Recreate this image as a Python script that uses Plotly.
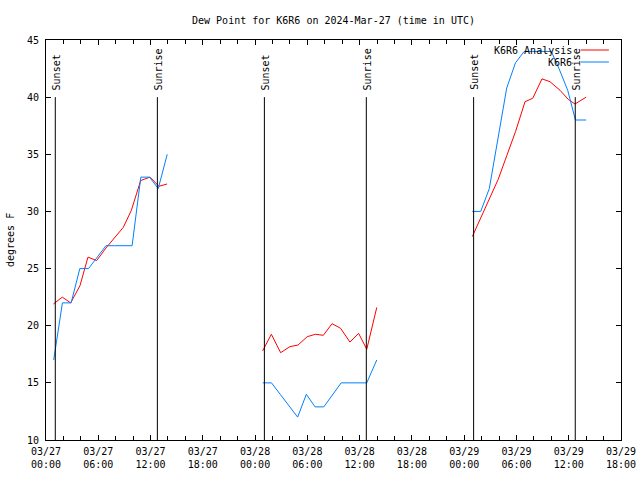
import plotly.graph_objects as go
import pandas as pd

# ---- data ----
obs_times = [
    "2024-03-27 00:53", "2024-03-27 01:53", "2024-03-27 02:53", "2024-03-27 03:53",
    "2024-03-27 04:53", "2024-03-27 05:53", "2024-03-27 06:53", "2024-03-27 07:53",
    "2024-03-27 08:53", "2024-03-27 09:53", "2024-03-27 10:53", "2024-03-27 11:53",
    "2024-03-27 12:53", "2024-03-27 13:55", None,
    "2024-03-28 00:53", "2024-03-28 01:53", "2024-03-28 02:53", "2024-03-28 03:53",
    "2024-03-28 04:53", "2024-03-28 05:53", "2024-03-28 06:53", "2024-03-28 07:53",
    "2024-03-28 08:53", "2024-03-28 09:53", "2024-03-28 10:53", "2024-03-28 11:53",
    "2024-03-28 12:49", "2024-03-28 13:58", None,
    "2024-03-29 00:56", "2024-03-29 01:54", "2024-03-29 02:53", "2024-03-29 03:53",
    "2024-03-29 04:53", "2024-03-29 05:53", "2024-03-29 06:53", "2024-03-29 07:53",
    "2024-03-29 08:53", "2024-03-29 10:00", "2024-03-29 10:53", "2024-03-29 11:53",
    "2024-03-29 12:46", "2024-03-29 14:00",
]
obs_dewpt = [
    17, 22, 22, 25, 25, 26, 27, 27, 27, 27, 33, 33, 32, 35, None,
    15, 15, 14, 13, 12, 14, 12.9, 12.9, 14, 15, 15, 15, 15, 17, None,
    30, 30, 32, 36.5, 40.8, 43, 44, 44, 44, 44, 42.5, 40.6, 38, 38,
]

ana_times = [
    "2024-03-27 00:51", "2024-03-27 01:52", "2024-03-27 02:50", "2024-03-27 03:54",
    "2024-03-27 04:49", "2024-03-27 05:49", "2024-03-27 06:53", "2024-03-27 07:53",
    "2024-03-27 08:52", "2024-03-27 09:48", "2024-03-27 10:52", "2024-03-27 11:56",
    "2024-03-27 12:58", "2024-03-27 13:54", None,
    "2024-03-28 00:52", "2024-03-28 01:52", "2024-03-28 02:56", "2024-03-28 04:00",
    "2024-03-28 04:56", "2024-03-28 05:59", "2024-03-28 06:55", "2024-03-28 07:50",
    "2024-03-28 08:50", "2024-03-28 09:49", "2024-03-28 10:53", "2024-03-28 11:53",
    "2024-03-28 12:49", "2024-03-28 13:58", None,
    "2024-03-29 00:56", "2024-03-29 01:54", "2024-03-29 02:54", "2024-03-29 03:54",
    "2024-03-29 04:54", "2024-03-29 05:54", "2024-03-29 06:59", "2024-03-29 07:52",
    "2024-03-29 08:56", "2024-03-29 09:51", "2024-03-29 11:00", "2024-03-29 11:57",
    "2024-03-29 12:43", "2024-03-29 14:00",
]
ana_dewpt = [
    21.9, 22.5, 22.0, 23.5, 26.0, 25.7, 26.8, 27.7, 28.6, 30.1, 32.7, 33.0, 32.2, 32.4, None,
    17.8, 19.25, 17.64, 18.17, 18.31, 19.04, 19.25, 19.16, 20.18, 19.77, 18.57, 19.33, 17.94, 21.6, None,
    27.8, 29.4, 31.1, 32.8, 34.9, 37.0, 39.6, 39.9, 41.6, 41.35, 40.6, 39.8, 39.4, 40.0,
]

sun_times = ["2024-03-27 01:04", "2024-03-27 12:47", "2024-03-28 01:04",
             "2024-03-28 12:46", "2024-03-29 01:05", "2024-03-29 12:45"]
sun_labels = ["Sunset", "Sunrise", "Sunset", "Sunrise", "Sunset", "Sunrise"]

tick_times = pd.date_range("2024-03-27 00:00", "2024-03-29 18:00", freq="6h")
tick_text = [t.strftime("%m/%d") + "<br>" + t.strftime("%H:%M") for t in tick_times]

title_text = "Dew Point for K6R6 on 2024-Mar-27 (time in UTC)"
series_names = ["K6R6 Analysis", "K6R6"]
series_colors = ["#ff0000", "#0080ff"]

FONT = "DejaVu Sans Mono"

fig = go.Figure()
fig.add_trace(go.Scatter(x=ana_times, y=ana_dewpt, mode="lines", name=series_names[0],
                         line=dict(color=series_colors[0], width=1), connectgaps=False))
fig.add_trace(go.Scatter(x=obs_times, y=obs_dewpt, mode="lines", name=series_names[1],
                         line=dict(color=series_colors[1], width=1), connectgaps=False))

shapes = []
annotations = []
for t, lab in zip(sun_times, sun_labels):
    shapes.append(dict(type="line", xref="x", yref="y", x0=t, x1=t, y0=10, y1=40,
                       line=dict(color="black", width=1)))
    annotations.append(dict(x=t, y=40, xref="x", yref="y", text=lab, showarrow=False,
                            textangle=-90, xanchor="center", yanchor="bottom",
                            yshift=5, xshift=1, font=dict(family=FONT, size=10, color="black")))

# legend (gnuplot style: text right, sample to the right)
leg_y = [0.975, 0.945]
for name, col, yy in zip(series_names, series_colors, leg_y):
    annotations.append(dict(x=0.918, y=yy, xref="paper", yref="paper", text=name,
                            showarrow=False, xanchor="right", yanchor="middle",
                            font=dict(family=FONT, size=10, color="black")))
    shapes.append(dict(type="line", xref="paper", yref="paper", x0=0.930, x1=0.979,
                       y0=yy, y1=yy, line=dict(color=col, width=1)))

annotations.append(dict(x=0, y=0.5, xref="paper", yref="paper", xshift=-36,
                        text="degrees F", showarrow=False, textangle=-90,
                        xanchor="center", yanchor="middle",
                        font=dict(family=FONT, size=10, color="black")))

fig.update_layout(
    width=640, height=480,
    margin=dict(l=46, r=19, t=40, b=40, autoexpand=False),
    paper_bgcolor="white", plot_bgcolor="white",
    showlegend=False,
    font=dict(family=FONT, size=10, color="black"),
    title=dict(text=title_text, x=0.5, xref="paper", y=1 - 20 / 480, yref="container",
               xanchor="center", yanchor="middle",
               font=dict(family=FONT, size=10, color="black")),
    shapes=shapes, annotations=annotations,
)
fig.update_xaxes(
    type="date", range=["2024-03-27 00:00", "2024-03-29 18:00"],
    tickmode="array", tickvals=list(tick_times), ticktext=tick_text,
    ticks="inside", ticklen=5, tickcolor="black",
    minor=dict(tickmode="linear", tick0="2024-03-27 00:00", dtick=7200000,
               ticks="inside", ticklen=4, tickcolor="black"),
    showline=True, linecolor="black", linewidth=1, mirror="ticks",
    showgrid=False, zeroline=False, ticklabelstandoff=2, automargin=False,
)
fig.update_yaxes(
    range=[10, 45], dtick=5, tick0=10,
    ticks="inside", ticklen=5, tickcolor="black",
    showline=True, linecolor="black", linewidth=1, mirror="ticks",
    showgrid=False, zeroline=False, ticklabelstandoff=4, automargin=False,
)

fig.write_html("out.html", config={"displayModeBar": False},
               post_script="document.body.style.margin='0';document.body.style.padding='0';")
